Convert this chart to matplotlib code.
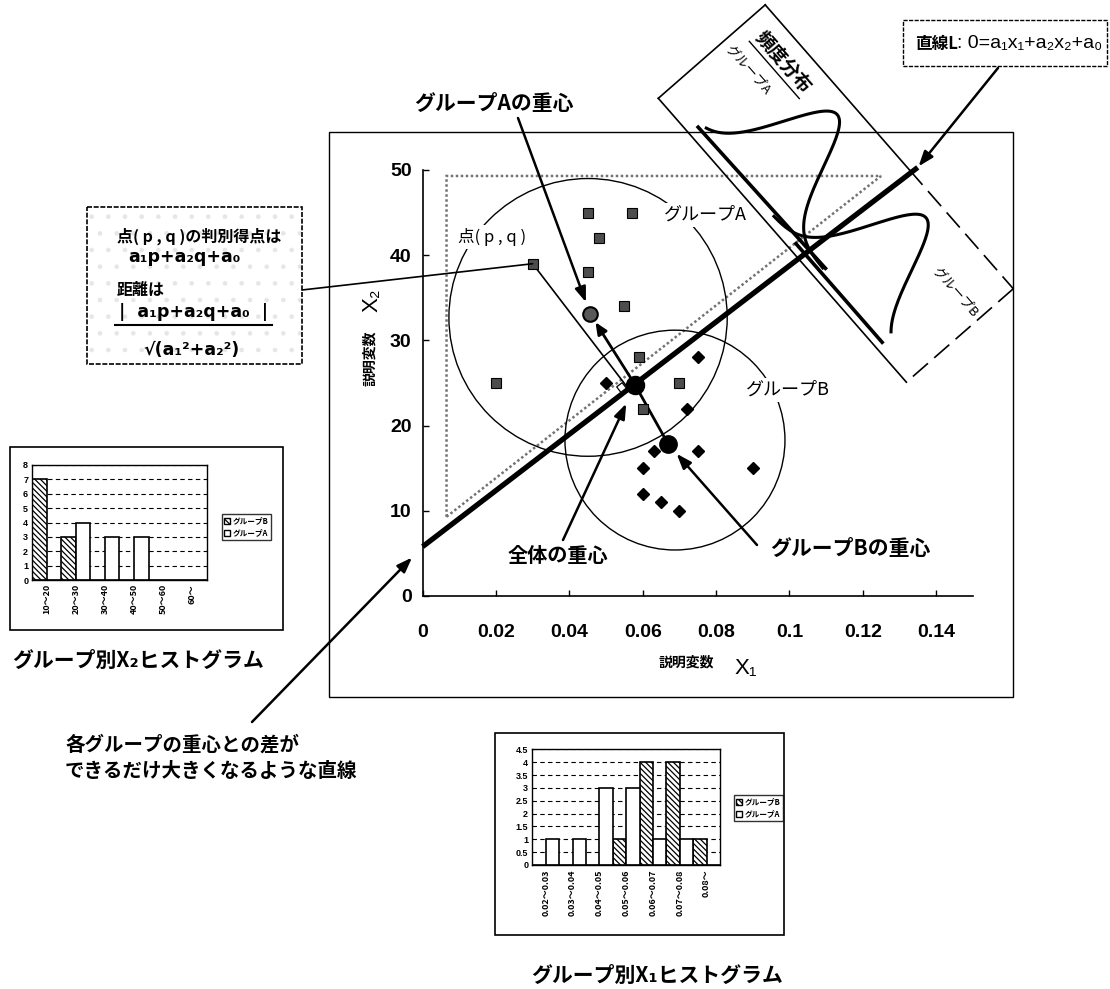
import numpy as np
import matplotlib.pyplot as plt
from matplotlib.patches import Rectangle, Ellipse, Polygon, Patch, ConnectionPatch

plt.rcParams['font.family'] = ['Noto Sans CJK JP', 'DejaVu Sans']
plt.rcParams['hatch.linewidth'] = 0.9

# --- データ ---
grpA_x1 = [0.045, 0.057, 0.048, 0.045, 0.030, 0.055, 0.020, 0.059, 0.070, 0.060]
grpA_x2 = [45, 45, 42, 38, 39, 34, 25, 28, 25, 22]
grpB_x1 = [0.075, 0.072, 0.050, 0.063, 0.075, 0.060, 0.090, 0.060, 0.065, 0.070]
grpB_x2 = [28, 22, 25, 17, 17, 15, 15, 12, 11, 10]
pq_x1, pq_x2 = 0.030, 39          # 点(p,q)
cent_A = (0.0457, 33.1)
cent_B = (0.0670, 17.8)
cent_all = (0.0579, 24.8)
line_L_x1 = [0.0, 0.135]
line_L_x2 = [5.8, 50.3]

x1_ticks = [0, 0.02, 0.04, 0.06, 0.08, 0.10, 0.12, 0.14]
x1_tick_labels = ['0', '0.02', '0.04', '0.06', '0.08', '0.1', '0.12', '0.14']
x2_ticks = [0, 10, 20, 30, 40, 50]

x2_bins = ['10～20', '20～30', '30～40', '40～50', '50～60', '60～']
x2_cnt_B = [7, 3, 0, 0, 0, 0]
x2_cnt_A = [0, 4, 3, 3, 0, 0]
x1_bins = ['0.02～0.03', '0.03～0.04', '0.04～0.05', '0.05～0.06',
           '0.06～0.07', '0.07～0.08', '0.08～']
x1_cnt_B = [0, 0, 0, 1, 4, 4, 1]
x1_cnt_A = [1, 1, 3, 3, 1, 1, 0]

W, H = 1110, 989
fig = plt.figure(figsize=(W / 100, H / 100), dpi=100)


def px_axes(l, t, r, b):
    return fig.add_axes([l / W, 1 - b / H, (r - l) / W, (b - t) / H])


num = dict(family='Liberation Sans', weight='bold')
latin = ['Liberation Sans', 'DejaVu Sans']
HATCH = '\\\\\\\\\\\\'

# ---- 散布図 ----
ax = px_axes(422.7, 170, 972.7, 596)
ax.set_xlim(0, 0.15)
ax.set_ylim(0, 50)
ax.patch.set_alpha(0)
ax.spines[['top', 'right']].set_visible(False)
ax.spines[['left', 'bottom']].set_linewidth(1.2)
ax.set_xticks(x1_ticks)
ax.set_xticklabels(x1_tick_labels, fontsize=14, **num)
ax.set_yticks(x2_ticks)
ax.set_yticklabels([str(t) for t in x2_ticks], fontsize=14, **num)
ax.tick_params(direction='in', length=4, width=1)
ax.tick_params(axis='x', pad=20)
ax.tick_params(axis='y', pad=8)

# 灰色の三角形
ax.add_patch(Polygon([[0.0065, 9.3], [0.0065, 49.3], [0.125, 49.3]], closed=True,
                     fill=False, ec='0.45', lw=1.8, ls=(0, (1, 1)), zorder=1))
# グループの円
ax.add_patch(Ellipse((0.0451, 32.7), 0.0759, 32.6, fill=False, lw=1.0, ec='k', clip_on=False))
ax.add_patch(Ellipse((0.0688, 18.3), 0.0600, 25.8, fill=False, lw=1.0, ec='k', clip_on=False))

# 直線L
ax.plot(line_L_x1, line_L_x2, color='k', lw=3.8, solid_capstyle='butt', clip_on=False, zorder=3)

# 点(p,q)から直線Lへの垂線
T = ax.transData
p_d = T.transform((pq_x1, pq_x2))
l0, l1 = T.transform([(line_L_x1[0], line_L_x2[0]), (line_L_x1[1], line_L_x2[1])])
d = (l1 - l0) / np.linalg.norm(l1 - l0)
foot_d = l0 + np.dot(p_d - l0, d) * d
foot = T.inverted().transform(foot_d)
ax.plot([pq_x1, foot[0]], [pq_x2, foot[1]], lw=1.2, color='k', zorder=4)
n = (p_d - foot_d) / np.linalg.norm(p_d - foot_d)
sq = T.inverted().transform(foot_d + 6 * n - 5 * d)
ang = np.degrees(np.arctan2(d[1], d[0]))
ax.plot(*sq, marker=(4, 0, 45 + ang), ms=7, mfc='white', mec='k', mew=0.9, zorder=4)

# 重心を結ぶ線
ax.plot([cent_all[0], cent_B[0]], [cent_all[1], cent_B[1]], lw=2, color='k', zorder=4)
ax.annotate('', xy=cent_A, xytext=cent_all,
            arrowprops=dict(arrowstyle='-|>,head_length=0.5,head_width=0.22', lw=2,
                            color='k', shrinkA=0, shrinkB=7, mutation_scale=14), zorder=4)

# データ点
ax.plot(grpA_x1, grpA_x2, 's', ms=7.5, mfc='0.3', mec='k', mew=0.8, zorder=5)
ax.plot(grpB_x1, grpB_x2, 'D', ms=6.5, mfc='k', mec='k', zorder=5)
ax.plot(*cent_A, 'o', ms=10.5, mfc='0.35', mec='k', mew=1.5, zorder=6)
ax.plot(*cent_B, 'o', ms=12.5, color='k', zorder=6)
ax.plot(*cent_all, 'o', ms=13, color='k', zorder=6)

# ---- 注記用の重ね合わせ軸 (ピクセル座標) ----
ov = fig.add_axes([0, 0, 1, 1])
ov.set_xlim(0, W)
ov.set_ylim(H, 0)
ov.axis('off')

ov.add_patch(Rectangle((329, 132), 684, 565, fill=False, lw=1, ec='k'))

ov.text(372, 300, 'X₂', rotation=90, fontsize=16, ha='center', va='center', family=latin)
ov.text(370, 358, '説明変数', rotation=90, fontsize=10, fontweight='bold', ha='center', va='center')
ov.text(686, 663, '説明変数', fontsize=10, fontweight='bold', ha='center', va='center')
ov.text(746, 668, 'X₁', fontsize=16, ha='center', va='center', family=latin)

wb = dict(fc='white', ec='none', pad=2)
ov.text(705, 215, 'グループA', fontsize=13, ha='center', va='center', bbox=wb, zorder=4)
ov.text(788, 390, 'グループB', fontsize=13, ha='center', va='center', bbox=wb, zorder=4)
ov.text(492, 237, '点( p , q )', fontsize=12, ha='center', va='center', bbox=wb, zorder=4)

ov.text(494, 103, 'グループAの重心', fontsize=15, fontweight='bold', ha='center', va='center')
ov.text(558, 555, '全体の重心', fontsize=14.5, fontweight='bold', ha='center', va='center')
ov.text(770, 548, 'グループBの重心', fontsize=15, fontweight='bold', ha='left', va='center')
ov.text(65, 745, '各グループの重心との差が', fontsize=14, fontweight='bold', va='center')
ov.text(65, 771, 'できるだけ大きくなるような直線', fontsize=14, fontweight='bold', va='center')


def arrow(xy_px, xy_data, shrink, lw=1.8):
    con = ConnectionPatch(xyA=xy_px, coordsA=ov.transData, xyB=xy_data, coordsB=ax.transData,
                          arrowstyle='-|>,head_length=0.6,head_width=0.22', mutation_scale=15,
                          lw=lw, color='k', shrinkA=0, shrinkB=shrink, zorder=8)
    fig.add_artist(con)


arrow((518, 118), cent_A, 9)
arrow((563, 540), cent_all, 15)
arrow((757, 545), cent_B, 9)
arrow((252, 722), (line_L_x1[0], line_L_x2[0]), 11)
arrow((998, 68), (line_L_x1[1], line_L_x2[1]), 1)
# 判別得点の枠から点(p,q)へ
fig.add_artist(ConnectionPatch(xyA=(302, 290), coordsA=ov.transData, xyB=(pq_x1, pq_x2),
                               coordsB=ax.transData, lw=1.2, color='k'))

# 判別得点の枠
ov.add_patch(Rectangle((87, 207), 215, 157, fill=False, hatch='.', ec='0.9', lw=0))
ov.add_patch(Rectangle((87, 207), 215, 157, fill=False, ec='k', lw=1.2, ls=(0, (3, 1))))
ov.text(117, 236, '点( p , q )の判別得点は', fontsize=11.5, fontweight='bold', va='center')
ov.text(128, 257, 'a₁p+a₂q+a₀', fontsize=12.5, fontweight='bold', va='center', family='DejaVu Sans')
ov.text(117, 290, '距離は', fontsize=11.5, fontweight='bold', va='center')
ov.text(194, 312, '|  a₁p+a₂q+a₀  |', fontsize=12.5, fontweight='bold', ha='center', va='center',
        family='DejaVu Sans')
ov.plot([115, 272], [325, 325], lw=1.5, color='k')
ov.text(143, 350, '√(a₁²+a₂²)', fontsize=12.5, fontweight='bold', va='center', family='DejaVu Sans')

# 直線Lの枠
ov.add_patch(Rectangle((903, 20), 204, 46, fill=False, ec='k', lw=1, ls=(0, (3, 1))))
ov.text(915, 44, '直線L', fontsize=12, fontweight='bold', va='center')
ov.text(957, 44, ': 0=a₁x₁+a₂x₂+a₀', fontsize=14, va='center', family=latin)

# ---- 頻度分布の回転した枠 ----
O = np.array([658.3, 98.3])
u = np.array([0.658, 0.753])
v = np.array([0.753, -0.658])


def P(s, t):
    s = np.atleast_1d(s)
    t = np.broadcast_to(t, s.shape)
    pts = O + np.outer(s, u) + np.outer(t, v)
    return pts[:, 0], pts[:, 1]


def seg(s0, t0, s1, t1, **kw):
    x0, y0 = P(s0, t0)
    x1, y1 = P(s1, t1)
    ov.plot([x0[0], x1[0]], [y0[0], y1[0]], color='k', **kw)


seg(0, 0, 377, 0, lw=1.2)
seg(0, 0, 0, 142, lw=1.2)
seg(0, 142, 219, 142, lw=1.2)
seg(219, 142, 377, 142, lw=1.2, ls=(0, (12, 5)))
seg(377, 142, 377, 0, lw=1.2, ls=(0, (12, 5)))
seg(48, 11, 238, 14, lw=2.6)
seg(200, 8, 331, 8, lw=2.6)

sA = np.linspace(54, 236, 200)
ov.plot(*P(sA, 12 + 112 * np.exp(-(sA - 130) ** 2 / (2 * 30 ** 2))), color='k', lw=2.2)
sB = np.linspace(165, 329, 200)
ov.plot(*P(sB, 9 + 114 * np.exp(-(sB - 266) ** 2 / (2 * 30 ** 2))), color='k', lw=2.2)

tx, ty = P(55, 118)
ov.text(tx[0], ty[0], '頻度分布', rotation=-48.8, rotation_mode='anchor', fontsize=13.5,
        fontweight='bold', ha='center', va='center')
ux, uy = P(np.array([17, 93]), 106)
ov.plot(ux, uy, color='k', lw=1)
tx, ty = P(37, 86)
ov.text(tx[0], ty[0], 'グループA', rotation=-48.8, rotation_mode='anchor', fontsize=9.5,
        ha='center', va='center')
tx, ty = P(341, 96)
ov.text(tx[0], ty[0], 'グループB', rotation=-48.8, rotation_mode='anchor', fontsize=9.5,
        ha='center', va='center')


# ---- ヒストグラム ----
def hist(axh, cats, cnt_b, cnt_a, ymax, ticks, ticklabels, leg_xy):
    x = np.arange(len(cats))
    axh.bar(x - 0.25, cnt_b, width=0.5, color='white', edgecolor='k', hatch=HATCH, lw=1.2)
    axh.bar(x + 0.25, cnt_a, width=0.5, color='white', edgecolor='k', lw=1.2)
    axh.set_xlim(-0.5, len(cats) - 0.5)
    axh.set_ylim(0, ymax)
    axh.set_yticks(ticks)
    axh.set_yticklabels(ticklabels, fontsize=6.5, **num)
    axh.set_xticks(x)
    axh.set_xticklabels(cats, rotation=90, fontsize=6.5, fontweight='bold')
    axh.tick_params(length=0, pad=3)
    axh.yaxis.grid(True, ls=(0, (4, 3)), color='k', lw=0.8)
    axh.set_axisbelow(True)
    for sp in axh.spines.values():
        sp.set_linewidth(1)
    handles = [Patch(fc='white', ec='k', hatch=HATCH), Patch(fc='white', ec='k')]
    leg = axh.legend(handles, ['グループB', 'グループA'], loc='upper left',
                     bbox_to_anchor=(leg_xy[0] / W, 1 - leg_xy[1] / H),
                     bbox_transform=fig.transFigure, prop=dict(size=5.5, weight='bold'),
                     frameon=True, fancybox=False, edgecolor='k', handlelength=0.8,
                     handleheight=0.8, handletextpad=0.3, borderpad=0.3,
                     labelspacing=0.4, borderaxespad=0)
    leg.get_frame().set_linewidth(1)


ov.add_patch(Rectangle((10, 447), 273, 183, fill=False, lw=1.2, ec='k'))
h2 = px_axes(32.3, 465, 206.7, 580)
hist(h2, x2_bins, x2_cnt_B, x2_cnt_A, 8, list(range(9)), [str(i) for i in range(9)], (222, 514))
ov.text(12, 660, 'グループ別X₂ヒストグラム', fontsize=15, fontweight='bold', va='center')

ov.add_patch(Rectangle((495, 733), 289, 202, fill=False, lw=1.2, ec='k'))
h1 = px_axes(532.3, 749.3, 720, 865)
yt = [0, 0.5, 1, 1.5, 2, 2.5, 3, 3.5, 4, 4.5]
hist(h1, x1_bins, x1_cnt_B, x1_cnt_A, 4.5, yt, ['%g' % t for t in yt], (734, 795))
ov.text(657, 975, 'グループ別X₁ヒストグラム', fontsize=15, fontweight='bold', ha='center', va='center')

fig.savefig('out.png', dpi=100)
